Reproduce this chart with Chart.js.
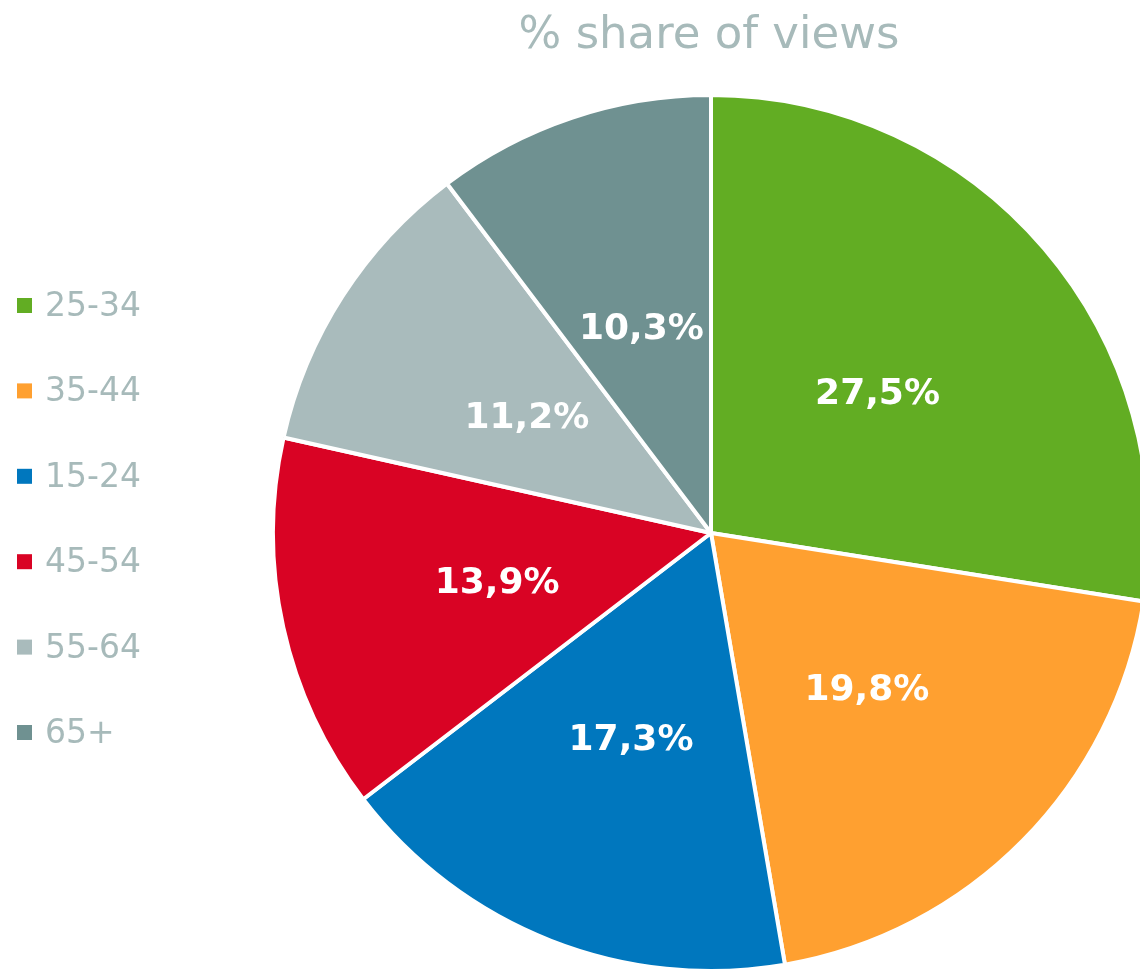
<!DOCTYPE html>
<html>
<head>
<meta charset="utf-8">
<script src="https://cdn.jsdelivr.net/npm/chart.js@4"></script>
<style>
    html, body { margin: 0; padding: 0; background: #fff; overflow: hidden; }
    #wrap { position: absolute; left: 0; top: 0; width: 1180px; height: 1000px; }
</style>
</head>
<body>
<div id="wrap"><canvas id="pieChart" width="1180" height="1000"></canvas></div>
<script>
// Data
const titleText = '% share of views';
const ageGroups = ['25-34', '35-44', '15-24', '45-54', '55-64', '65+'];
const shareValues = [27.5, 19.8, 17.3, 13.9, 11.2, 10.3];
const sliceColors = ['#62ad23', '#ffa030', '#0077be', '#d90324', '#a9bbbc', '#6f9191'];

const GREY = '#a7baba';

// title + legend drawn on the canvas, values in the slices
const decorPlugin = {
    id: 'decor',
    afterDatasetsDraw(chart) {
        const ctx = chart.ctx;
        const meta = chart.getDatasetMeta(0);
        ctx.save();

        // slice labels
        ctx.fillStyle = '#fff';
        ctx.font = 'bold 36px "DejaVu Sans", Verdana, sans-serif';
        ctx.textAlign = 'center';
        ctx.textBaseline = 'middle';
        meta.data.forEach((arc, i) => {
            const p = arc.tooltipPosition();
            ctx.fillText(shareValues[i].toFixed(1).replace('.', ',') + '%', p.x, p.y + 4);
        });

        // title
        ctx.fillStyle = GREY;
        ctx.font = '45px "DejaVu Sans", Verdana, sans-serif';
        ctx.textBaseline = 'alphabetic';
        ctx.fillText(titleText, 709, 48);

        // legend
        ctx.textAlign = 'left';
        ctx.font = '33px "DejaVu Sans", Verdana, sans-serif';
        ageGroups.forEach((g, i) => {
            const y = 316 + i * 85.4;
            ctx.fillStyle = sliceColors[i];
            ctx.fillRect(17, y - 18, 15, 15);
            ctx.fillStyle = GREY;
            ctx.fillText(g, 45, y);
        });
        ctx.restore();
    }
};

new Chart(document.getElementById('pieChart'), {
    type: 'pie',
    data: {
        labels: ageGroups,
        datasets: [{
            data: shareValues,
            backgroundColor: sliceColors,
            borderColor: '#fff',
            borderWidth: 4
        }]
    },
    options: {
        responsive: false,
        animation: false,
        devicePixelRatio: 1,
        layout: { padding: { left: 271, top: 93, right: 29, bottom: 27 } },
        plugins: {
            legend: { display: false },
            title: { display: false },
            tooltip: { enabled: false }
        }
    },
    plugins: [decorPlugin]
});
</script>
</body>
</html>
